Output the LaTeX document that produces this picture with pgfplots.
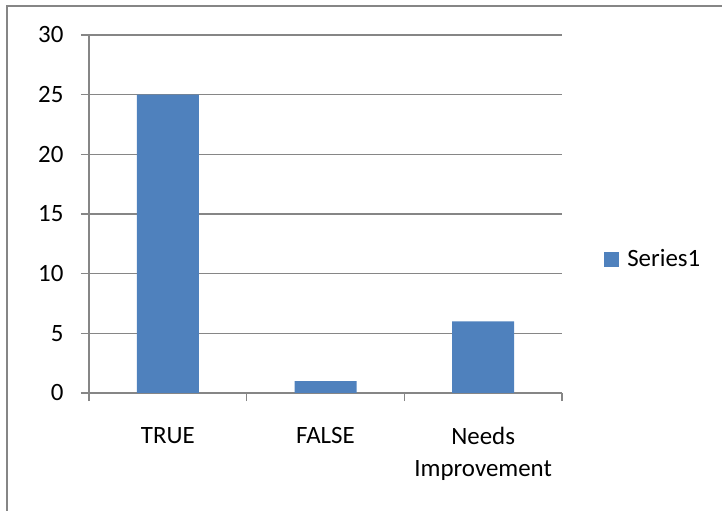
\documentclass[border=0pt]{standalone}
\usepackage{pgfplots}
\pgfplotsset{compat=1.18}
\usepackage{fontspec}
\setmainfont{Carlito}
\definecolor{barblue}{HTML}{4F81BD}
\definecolor{axgray}{HTML}{868686}
\begin{document}
\begin{tikzpicture}
\useasboundingbox (0,0) rectangle (722bp,511bp);
\draw[axgray, line width=1.5bp] (7bp,0) -- (7bp,505bp) -- (722bp,505bp);
\begin{axis}[
    at={(89bp,118bp)}, anchor=south west,
    scale only axis, width=473bp, height=358bp,
    font=\fontsize{25}{32}\selectfont,
    xmin=-0.5, xmax=2.5, ymin=0, ymax=30,
    ytick={0,5,...,30},
    axis x line*=bottom, axis y line*=left,
    axis line style={-, axgray, line width=1.5bp},
    ymajorgrids,
    grid style={axgray, line width=1.5bp},
    tick align=outside, major tick length=8bp,
    tick style={axgray, line width=1.5bp},
    xtick={-0.5,0.5,1.5,2.5}, xticklabels={},
    extra x ticks={0,1,2},
    extra x tick labels={TRUE,FALSE,{Needs\\Improvement}},
    extra x tick style={major tick length=0pt,
        xticklabel style={align=center, anchor=north, yshift=-31bp}},
    yticklabel style={xshift=-14bp},
    /pgf/number format/assume math mode=true,
    legend style={at={(axis description cs:1.089,0.374)}, anchor=west,
        draw=none, fill=none, inner sep=0pt, column sep=6bp,
        font=\fontsize{25}{30}\selectfont},
    legend image code/.code={\fill[barblue] (0bp,-7.5bp) rectangle (15bp,7.5bp);},
    legend cell align=left,
]
\addplot[ybar, bar width=62bp, fill=barblue, draw=none, bar shift=0pt]
coordinates {(0,25) (1,1) (2,6)};
\addlegendentry{Series1}
\end{axis}
\end{tikzpicture}
\end{document}
